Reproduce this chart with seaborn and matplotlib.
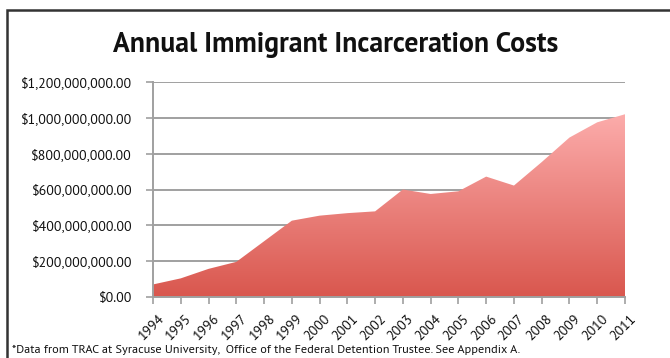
import numpy as np
import pandas as pd
import matplotlib
matplotlib.use("Agg")
import matplotlib.pyplot as plt
import matplotlib.transforms as mtransforms
from matplotlib.colors import LinearSegmentedColormap
from matplotlib.patches import Rectangle
import seaborn as sns

years = list(range(1994, 2012))
costs = [70e6, 104e6, 157e6, 196e6, 311e6, 426e6, 454e6, 468e6, 478e6,
         600e6, 575e6, 590e6, 672e6, 622e6, 753e6, 890e6, 975e6, 1020e6]
y_ticks = [0, 200e6, 400e6, 600e6, 800e6, 1000e6, 1200e6]
y_tick_labels = ["$0.00", "$200,000,000.00", "$400,000,000.00", "$600,000,000.00",
                 "$800,000,000.00", "$1,000,000,000.00", "$1,200,000,000.00"]
title = "Annual Immigrant Incarceration Costs"
footnote = ("*Data from TRAC at Syracuse University,  Office of the Federal "
            "Detention Trustee. See Appendix A.")

df = pd.DataFrame({"year": years, "cost": costs})

sns.set_theme(style="white")
plt.rcParams["font.family"] = ["PT Sans", "DejaVu Sans"]

fig = plt.figure(figsize=(6.7, 3.58), dpi=100)
ax = fig.add_axes([153 / 670, 1 - 297 / 358, 472 / 670, 215 / 358])

grid_col = "#a0a0a0"
for v in y_ticks[1:]:
    ax.axhline(v, color=grid_col, lw=1.4, zorder=1)

# area with vertical gradient fill
sns.lineplot(data=df, x="year", y="cost", ax=ax, lw=0, color="#f4a0a0", zorder=3)
poly = ax.fill_between(df["year"], 0, df["cost"], color="none", lw=0, zorder=2)
cmap = LinearSegmentedColormap.from_list("area", ["#d9574e", "#fcacab"])
grad = np.linspace(0, 1, 256).reshape(-1, 1)
img = ax.imshow(grad, cmap=cmap, origin="lower", aspect="auto",
                extent=[years[0], years[-1], 0, max(costs)], zorder=2)
img.set_clip_path(poly.get_paths()[0], transform=ax.transData)

ax.set_xlim(years[0], years[-1])
ax.set_ylim(0, 1.2e9)
ax.set_xticks(years)
ax.set_xticklabels([str(y) for y in years], rotation=45, ha="right",
                   rotation_mode="anchor", fontsize=10, color="#111111")
ax.set_yticks(y_ticks)
ax.set_yticklabels(y_tick_labels, fontsize=10, color="#111111")
ax.tick_params(axis="both", which="both", length=5, width=1.2, color=grid_col,
               direction="out", bottom=True, left=True)
ax.tick_params(axis="y", pad=10)
ax.tick_params(axis="x", pad=6)
shift = mtransforms.ScaledTranslation(4 / 100, 0, fig.dpi_scale_trans)
for lbl in ax.get_xticklabels():
    lbl.set_transform(lbl.get_transform() + shift)
for s in ["top", "right"]:
    ax.spines[s].set_visible(False)
for s in ["left", "bottom"]:
    ax.spines[s].set_color(grid_col)
    ax.spines[s].set_linewidth(1.4)
ax.set_xlabel("")
ax.set_ylabel("")

fig.text(336 / 670, 1 - 45 / 358, title, ha="center", va="center",
         fontsize=20, fontweight="bold", family=["PT Sans", "DejaVu Sans"],
         color="#111111")
fig.text(12 / 670, 1 - 350 / 358, footnote, ha="left", va="center",
         fontsize=8.8, color="#111111")

# outer frame
fig.patches.append(Rectangle((7 / 670, -0.05), 1.2, 1 - 10 / 358 + 0.05,
                             transform=fig.transFigure, fill=False,
                             edgecolor="#333333", lw=1.8))

fig.savefig("out.png", dpi=100)
